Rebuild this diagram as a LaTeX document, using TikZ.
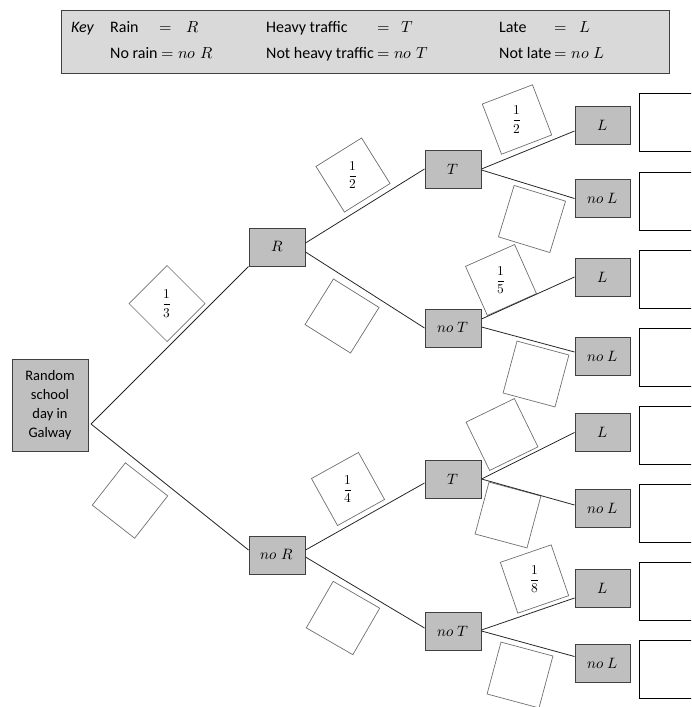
\documentclass[tikz,border=0pt]{standalone}
\usepackage{fontspec}
\usepackage{unicode-math}
\setmainfont{Carlito}
\usetikzlibrary{shapes.geometric,calc}
\definecolor{boxgray}{HTML}{BFBFBF}
\definecolor{keygray}{HTML}{D9D9D9}
\definecolor{edgegray}{HTML}{404040}
\definecolor{probgray}{HTML}{707070}
\begin{document}
\begin{tikzpicture}[x=1pt,y=-1pt,
  outcome/.style={draw=edgegray, fill=boxgray, line width=1pt, minimum width=56pt, minimum height=38pt, inner sep=0pt, font=\fontsize{15}{17}\selectfont},
  leaf/.style={outcome, minimum width=55pt},
  answer/.style={draw=black, line width=1pt, minimum width=60pt, minimum height=58pt, inner sep=0pt},
  prob/.style={draw=probgray, line width=0.7pt, fill=white, regular polygon, regular polygon sides=4, minimum size=76pt, inner sep=0pt, shape border rotate=#1, font=\fontsize{13.5}{15}\selectfont},
  branch/.style={draw=black!85, line width=0.8pt},
  keytext/.style={anchor=base west, inner sep=0pt, font=\fontsize{16}{19}\selectfont}
]
\useasboundingbox (0,0) rectangle (691,707);

% key
\node[draw=edgegray, line width=1pt, fill=keygray, minimum width=608pt, minimum height=63pt, inner sep=0pt] (key) at (365,41.5) {};
\node[keytext] (k0) at (71,32) {\textit{Key}};
\node[keytext] (k1) at (110,32) {Rain};
\node[keytext] (k2) at (159,32) {$=$};
\node[keytext] (k3) at (186,32) {$R$};
\node[keytext] (k4) at (266,32) {Heavy traffic};
\node[keytext] (k5) at (377,32) {$=$};
\node[keytext] (k6) at (401,32) {$T$};
\node[keytext] (k7) at (499,32) {Late};
\node[keytext] (k8) at (554,32) {$=$};
\node[keytext] (k9) at (579,32) {$L$};
\node[keytext] (k10) at (110,58) {No rain $=no\;R$};
\node[keytext] (k11) at (266,58) {Not heavy traffic $=no\;T$};
\node[keytext] (k12) at (499,58) {Not late $=no\;L$};

% tree nodes
\node[outcome, minimum width=76pt, minimum height=92pt, align=center, font=\fontsize{14.5}{19}\selectfont] (root) at (50,405) {Random\\school\\day in\\Galway};
\coordinate (rootout) at (91,424);
\node[outcome] (R) at (277,247) {$R$};
\node[outcome] (noR) at (277,555) {$no\;R$};
\node[outcome] (T1) at (453,169) {$T$};
\node[outcome] (noT1) at (453,328) {$no\;T$};
\node[outcome] (T2) at (453,479) {$T$};
\node[outcome] (noT2) at (453,631) {$no\;T$};
\node[leaf] (L1) at (602.5,125) {$L$};
\node[leaf] (noL1) at (602.5,198.5) {$no\;L$};
\node[leaf] (L2) at (602.5,277) {$L$};
\node[leaf] (noL2) at (602.5,356) {$no\;L$};
\node[leaf] (L3) at (602.5,432.5) {$L$};
\node[leaf] (noL3) at (602.5,508) {$no\;L$};
\node[leaf] (L4) at (602.5,588) {$L$};
\node[leaf] (noL4) at (602.5,663.5) {$no\;L$};

% answer boxes
\begin{scope}
\clip (0,0) rectangle (691,707);
\node[answer] (a1) at (669,122.5) {};
\node[answer] (a2) at (669,201) {};
\node[answer] (a3) at (669,279) {};
\node[answer] (a4) at (669,357) {};
\node[answer] (a5) at (669,435) {};
\node[answer] (a6) at (669,513.5) {};
\node[answer] (a7) at (669,591) {};
\node[answer] (a8) at (669,669) {};
\end{scope}

% probability boxes
\node[prob=45] (p1) at (167,303.5) {$\displaystyle\frac{1}{3}$};
\node[prob=-38] (p2) at (130,500.5) {};
\node[prob=32] (p3) at (353,175) {$\displaystyle\frac{1}{2}$};
\node[prob=-32] (p4) at (342,316) {};
\node[prob=21] (p5) at (517,119.5) {$\displaystyle\frac{1}{2}$};
\node[prob=-17] (p6) at (532,219) {};
\node[prob=24] (p7) at (501,280) {$\displaystyle\frac{1}{5}$};
\node[prob=-15] (p8) at (536,374) {};
\node[prob=29] (p9) at (348,489) {$\displaystyle\frac{1}{4}$};
\node[prob=-30] (p10) at (343,618) {};
\node[prob=26] (p11) at (502,434.5) {};
\node[prob=-15] (p12) at (508,515) {};
\node[prob=19] (p13) at (534.5,579) {$\displaystyle\frac{1}{8}$};
\node[prob=-15] (p14) at (520,675) {};

% branches
\draw[branch] (rootout) -- (R.south west);
\draw[branch] (rootout) -- ($(noR.west)+(0,-5)$);
\draw[branch] ($(R.east)+(0,-4)$) -- ($(T1.west)$);
\draw[branch] ($(R.east)+(0,5)$) -- ($(noT1.west)$);
\draw[branch] ($(noR.east)+(0,-5)$) -- ($(T2.west)+(0,4)$);
\draw[branch] ($(noR.east)+(0,2)$) -- ($(noT2.west)+(0,-3)$);
\draw[branch] (T1.east) -- ($(L1.west)+(0,6)$);
\draw[branch] ($(T1.east)+(0,1)$) -- (noL1.west);
\draw[branch] ($(noT1.east)+(0,-9)$) -- (L2.west);
\draw[branch] ($(noT1.east)+(0,-1)$) -- ($(noL2.west)+(0,-4)$);
\draw[branch] (T2.east) -- (L3.west);
\draw[branch] (T2.east) -- ($(noL3.west)+(0,-3)$);
\draw[branch] ($(noT2.east)+(0,-1)$) -- ($(L4.west)+(0,10)$);
\draw[branch] (noT2.east) -- ($(noL4.west)+(0,-7)$);
\end{tikzpicture}
\end{document}
